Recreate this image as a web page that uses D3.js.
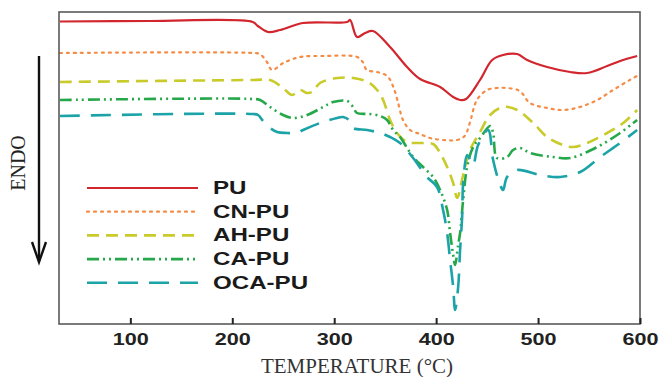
<!DOCTYPE html>
<html lang="en">
<head>
<meta charset="UTF-8">
<title>DSC curves</title>
<script src="https://d3js.org/d3.v7.min.js"></script>
<style>
  body { margin: 0; background: #fff; }
</style>
</head>
<body>
<div id="chart"></div>
<script>
// temperature (°C), endothermic heat flow (a.u., grows downward)
const PU = [[31,9.5],[119,9],[220,10],[225,14],[235,20],[247,18],[269.5,11],[312.6,10],[315.6,8],[322.4,25],[330.3,21],[338,19],[354.8,35],[371.5,55],[384.3,67],[403.9,75],[416.7,85],[423.5,88],[429.4,87],[443,68],[455,48],[465.7,43],[479.5,42],[489.3,48],[508.9,55],[531.5,60],[548.2,61],[567.8,54],[580.5,49],[597.2,44]];
const CN_PU = [[31,41],[220,41],[227,42],[234,50],[239,58],[250,51],[266.5,45],[289,44],[322.5,45],[328,50],[332,58],[342,60],[352,64],[358,75],[362,88],[367.5,108],[374.5,118],[384,122],[394,126],[407,128],[420.5,128],[428,124],[433,111],[440,88],[450,78],[460,76],[469.6,76],[482,79],[492,91],[509,96],[524.6,98],[541,95],[558,88],[573.6,78],[590,68],[597,64]];
const AH_PU = [[31,70],[220.4,68],[237.1,68],[249.8,76],[258.7,83],[266.5,78],[273.4,81],[278.3,80],[286.1,71],[302.8,66],[318.5,66],[333.2,70],[342.1,78],[348,88],[354.8,108],[361.7,121],[371.5,130],[384.3,131],[397,132],[403.9,141],[410.8,155],[416.7,171],[420.6,186],[426.5,163],[433.3,138],[443.1,120],[453,103],[465.7,95],[479.5,98],[495.2,111],[508.9,125],[524.6,133],[534.4,135],[548.2,131],[567.8,121],[583.5,111],[597.2,98]];
const CA_PU = [[31,88],[220.4,87],[227.3,88],[237.1,95],[249.8,103],[259.6,106],[273.4,103],[289.1,95],[298.9,90],[312.6,89],[318.5,95],[322.4,101],[335.2,102],[345,104],[351.9,108],[357.8,118],[364.6,125],[371.5,136],[377.4,145],[387.2,155],[397,165],[403.9,178],[410.8,198],[413.7,221],[416.7,243],[418.6,253],[421.6,233],[423.5,221],[426.5,188],[430.4,155],[436.3,135],[443.1,126],[453,114],[455.9,121],[459.8,146],[469.6,145],[475.5,138],[482.4,136],[492.2,141],[514.8,145],[531.5,146],[558,135],[580.5,121],[593.3,111],[597.2,108]];
const OCA_PU = [[31,104],[220.4,102],[225.3,103],[230.2,109],[237.1,116],[244,120],[253.7,121],[263.6,121],[269.5,118],[286.1,111],[302.8,106],[308.7,105],[315.6,109],[318.5,116],[332.3,118],[345,121],[354.8,125],[364.6,131],[377.4,146],[391.1,165],[400.9,175],[406.8,198],[410.8,221],[413.7,248],[416.7,275],[418.6,298],[421.6,275],[423.5,238],[425.5,205],[426.5,171],[430.4,143],[433.3,148],[436.3,153],[441.2,133],[451,118],[455.9,148],[462.8,173],[465.7,178],[469.6,165],[479.5,158],[502,163],[521.7,165],[541.3,160],[561,145],[580.5,131],[597.2,118]];

const seriesNames = ["PU", "CN-PU", "AH-PU", "CA-PU", "OCA-PU"];
const seriesData = [PU, CN_PU, AH_PU, CA_PU, OCA_PU];
const xTicks = [100, 200, 300, 400, 500, 600];

const colors = ["#d2262e", "#f58c45", "#c8cb2a", "#26a84a", "#1ba3a8"];
const dashes = [null, "2,5", "12,7", "12,4,2,4,2,4", "20,11"];
const widths = [2.2, 2.2, 2.6, 2.6, 2.6];

const W = 660, H = 377;
const plot = { left: 59, right: 640, top: 12, bottom: 324 };

const svg = d3.select("#chart").append("svg")
    .attr("width", W)
    .attr("height", H)
    .style("font-family", "'Liberation Sans', Arial, sans-serif");

const x = d3.scaleLinear().domain([30, 600]).range([plot.left, plot.right]);
const y = d3.scaleLinear().domain([0, 312]).range([plot.top, plot.bottom]);

svg.append("clipPath").attr("id", "clip")
  .append("rect")
    .attr("x", plot.left).attr("y", plot.top)
    .attr("width", plot.right - plot.left)
    .attr("height", plot.bottom - plot.top);

const line = d3.line()
    .x(d => x(d[0]))
    .y(d => y(d[1]))
    .curve(d3.curveCatmullRom.alpha(0.5));

// curves
svg.append("g").attr("clip-path", "url(#clip)")
  .selectAll("path")
  .data(seriesData)
  .enter().append("path")
    .attr("d", line)
    .attr("fill", "none")
    .attr("stroke", (d, i) => colors[i])
    .attr("stroke-width", (d, i) => widths[i])
    .attr("stroke-dasharray", (d, i) => dashes[i])
    .attr("stroke-linecap", (d, i) => i === 1 ? "round" : "butt");

// frame
svg.append("rect")
    .attr("x", plot.left).attr("y", plot.top)
    .attr("width", plot.right - plot.left)
    .attr("height", plot.bottom - plot.top)
    .attr("fill", "none")
    .attr("stroke", "#5a5a5a")
    .attr("stroke-width", 1.6);

// x axis, ticks pointing inward
const xAxis = svg.append("g")
    .attr("transform", "translate(0," + plot.bottom + ")")
    .call(d3.axisBottom(x).tickValues(xTicks).tickSizeInner(-6).tickSizeOuter(0).tickPadding(9));
xAxis.select(".domain").remove();
xAxis.selectAll(".tick line").attr("stroke", "#222").attr("stroke-width", 2);
xAxis.selectAll(".tick text")
    .attr("transform", "scale(1.27,1)")
    .style("font-family", "'Liberation Sans', Arial, sans-serif")
    .style("font-size", "17px")
    .style("font-weight", "bold")
    .attr("fill", "#222");

// x title
svg.append("text")
    .attr("x", 357)
    .attr("y", 373)
    .attr("text-anchor", "middle")
    .style("font-family", "'Liberation Serif', 'Times New Roman', serif")
    .style("font-size", "21px")
    .attr("fill", "#333")
    .text("TEMPERATURE (°C)");

// ENDO label and arrow
svg.append("text")
    .attr("transform", "translate(25,163) rotate(-90)")
    .attr("text-anchor", "middle")
    .style("font-family", "'Liberation Serif', 'Times New Roman', serif")
    .style("font-size", "20px")
    .attr("fill", "#222")
    .text("ENDO");

svg.append("line")
    .attr("x1", 39).attr("y1", 56).attr("x2", 39).attr("y2", 261)
    .attr("stroke", "#111").attr("stroke-width", 2.4);
svg.append("path")
    .attr("d", "M32,242 L39,262 L46,242")
    .attr("fill", "none")
    .attr("stroke", "#111")
    .attr("stroke-width", 2.4);

// legend
const legend = svg.append("g")
  .selectAll("g")
  .data(seriesNames)
  .enter().append("g")
    .attr("transform", (d, i) => "translate(87," + (188 + i * 23.7) + ")");

legend.append("line")
    .attr("x1", 0).attr("x2", 111)
    .attr("stroke", (d, i) => colors[i])
    .attr("stroke-width", (d, i) => widths[i])
    .attr("stroke-dasharray", (d, i) => dashes[i])
    .attr("stroke-linecap", (d, i) => i === 1 ? "round" : "butt");

legend.append("text")
    .attr("transform", "translate(126,6) scale(1.34,1)")
    .style("font-size", "18px")
    .style("font-weight", "bold")
    .attr("fill", "#1a1a1a")
    .text(d => d);
</script>
</body>
</html>
